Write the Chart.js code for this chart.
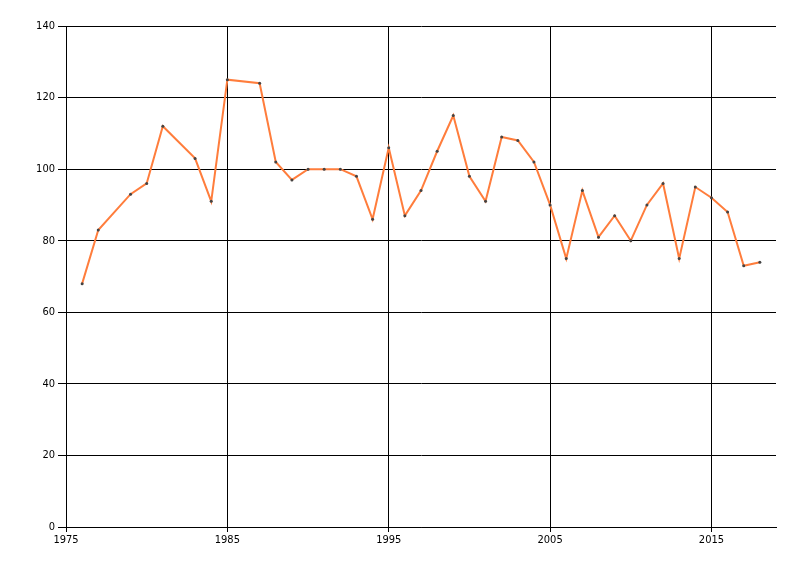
<!DOCTYPE html>
<html>
<head>
<meta charset="utf-8">
<script src="https://cdn.jsdelivr.net/npm/chart.js@4"></script>
<style>
  html, body { margin: 0; padding: 0; background: #fff; }
  #wrap { width: 800px; height: 576px; }
</style>
</head>
<body>
<div id="wrap"><canvas id="myChart"></canvas></div>
<script>
var years = [1976, 1977, 1979, 1980, 1981, 1983, 1984, 1985, 1987, 1988, 1989, 1990, 1991, 1992, 1993, 1994, 1995, 1996, 1997, 1998, 1999, 2000, 2001, 2002, 2003, 2004, 2005, 2006, 2007, 2008, 2009, 2010, 2011, 2012, 2013, 2014, 2015, 2016, 2017, 2018]
var values = [68, 83, 93, 96, 112, 103, 91, 125, 124, 102, 97, 100, 100, 100, 98, 86, 106, 87, 94, 105, 115, 98, 91, 109, 108, 102, 90, 75, 94, 81, 87, 80, 90, 96, 75, 95, 92, 88, 73, 74]
var xTicks = [1975, 1985, 1995, 2005, 2015]
var yTicks = [0, 20, 40, 60, 80, 100, 120, 140]

var points = years.map(function (y, i) { return { x: y, y: values[i] } })

var tickFont = { family: 'DejaVu Sans Condensed, Liberation Sans Narrow, Arial', size: 11 }

var ctx = document.getElementById('myChart').getContext('2d');
var myChart = new Chart(ctx, {
  type: 'line',
  data: {
    datasets: [{
      data: points,
      borderColor: 'rgb(255, 125, 60)',
      borderWidth: 2,
      tension: 0,
      pointRadius: 1.5,
      pointBackgroundColor: '#444',
      pointBorderWidth: 0,
      pointHoverRadius: 2
    }]
  },
  options: {
    responsive: true,
    maintainAspectRatio: false,
    animation: false,
    layout: { padding: { top: 26, right: 24, left: 0, bottom: 0 } },
    plugins: {
      legend: { display: false },
      tooltip: { enabled: false }
    },
    scales: {
      x: {
        type: 'linear',
        min: 1975,
        max: 2019,
        afterBuildTicks: function (axis) {
          axis.ticks = xTicks.map(function (v) { return { value: v } })
        },
        afterFit: function (axis) { axis.height = 49 },
        ticks: {
          color: '#000',
          font: tickFont,
          padding: 2,
          maxRotation: 0,
          callback: function (v) { return String(v) }
        },
        grid: { color: '#000', lineWidth: 1, tickLength: 5 },
        border: { color: '#000', width: 1 }
      },
      y: {
        min: 0,
        max: 140,
        afterBuildTicks: function (axis) {
          axis.ticks = yTicks.map(function (v) { return { value: v } })
        },
        afterFit: function (axis) { axis.width = 66 },
        ticks: {
          color: '#000',
          font: tickFont,
          padding: 3
        },
        grid: { color: '#000', lineWidth: 1, tickLength: 8 },
        border: { color: '#000', width: 1 }
      }
    }
  }
})
</script>
</body>
</html>
